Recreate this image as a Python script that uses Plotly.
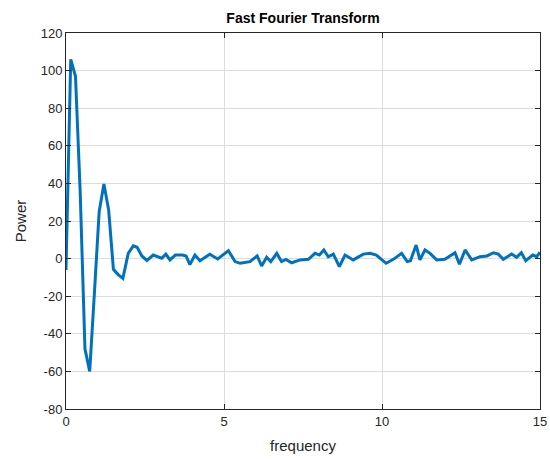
import plotly.graph_objects as go

freq = [0, 0.15, 0.3, 0.45, 0.6, 0.75, 0.9, 1.05, 1.2, 1.35, 1.5, 1.65, 1.8, 1.97, 2.13, 2.25,
        2.4, 2.56, 2.76, 2.89, 3.03, 3.16, 3.29, 3.46, 3.69, 3.8, 3.92, 4.08, 4.24, 4.55, 4.8,
        5.14, 5.35, 5.51, 5.82, 6.05, 6.19, 6.35, 6.48, 6.67, 6.82, 6.96, 7.14, 7.41, 7.67,
        7.88, 8.02, 8.16, 8.3, 8.46, 8.65, 8.83, 9.09, 9.41, 9.62, 9.82, 10.13, 10.36, 10.62,
        10.8, 10.9, 11.08, 11.2, 11.36, 11.52, 11.73, 11.99, 12.2, 12.31, 12.45, 12.63, 12.84,
        13.1, 13.32, 13.53, 13.68, 13.84, 14.1, 14.26, 14.41, 14.55, 14.77, 14.9, 15.0]
power = [-6, 106, 97, 35, -48, -60, -18, 25, 39.7, 25.8, -5.7, -8.5, -10.5, 2.8, 6.8, 6.0,
         1.4, -1.0, 1.9, 1.0, 0.2, 2.4, -0.7, 1.9, 1.9, 1.4, -3.2, 1.9, -1.1, 2.3, -0.2,
         4.2, -1.6, -2.5, -1.6, 1.4, -3.9, 0.7, -1.6, 2.8, -1.6, -0.4, -2.2, -0.7, -0.4,
         2.8, 1.9, 4.6, 1.0, 2.4, -4.3, 1.9, -0.7, 2.4, 2.8, 1.9, -2.5, -0.4, 2.8,
         -1.6, -1.1, 7.2, -0.7, 4.6, 2.8, -0.7, -0.4, 1.9, 3.1, -3.0, 4.6, -0.7,
         1.0, 1.4, 3.1, 2.4, -0.4, 2.4, 0.7, 3.1, -1.1, 1.9, 1.0, 3.4]

x_ticks = [0, 5, 10, 15]
y_ticks = [-80, -60, -40, -20, 0, 20, 40, 60, 80, 100, 120]

font = "Liberation Sans, Arial, sans-serif"
axcol = "#262626"

fig = go.Figure()
fig.add_trace(go.Scatter(x=freq, y=power, mode="lines",
                         line=dict(color="#0072BD", width=3), showlegend=False))

fig.update_layout(
    width=550, height=459,
    margin=dict(l=66, r=10, t=33, b=50, autoexpand=False),
    paper_bgcolor="white", plot_bgcolor="white",
    font=dict(family=font, color=axcol, size=13),
    title=dict(text="<b>Fast Fourier Transform</b>", x=(66 + 540) / 2 / 550, xref="container",
               xanchor="center",
               y=1 - 18 / 459, yref="container", yanchor="middle",
               font=dict(size=14, color="#000000", family=font)),
)
fig.update_xaxes(range=[0, 15], tickvals=x_ticks, ticktext=[str(v) for v in x_ticks],
                 automargin=False,
                 showgrid=True, gridcolor="#dcdcdc", gridwidth=1,
                 showline=True, linecolor=axcol, linewidth=1, mirror="ticks",
                 ticks="inside", ticklen=5, tickcolor=axcol, zeroline=False,
                 tickfont=dict(size=13, color=axcol),
                 title=dict(text="frequency", font=dict(size=15, color=axcol), standoff=12))
fig.update_yaxes(range=[-80, 120], tickvals=y_ticks, ticktext=[str(v) for v in y_ticks],
                 automargin=False,
                 showgrid=True, gridcolor="#dcdcdc", gridwidth=1,
                 showline=True, linecolor=axcol, linewidth=1, mirror="ticks",
                 ticks="inside", ticklen=5, tickcolor=axcol, zeroline=False,
                 tickfont=dict(size=13, color=axcol),
                 title=dict(text="Power", font=dict(size=15, color=axcol), standoff=10))

fig.write_html("out.html")
